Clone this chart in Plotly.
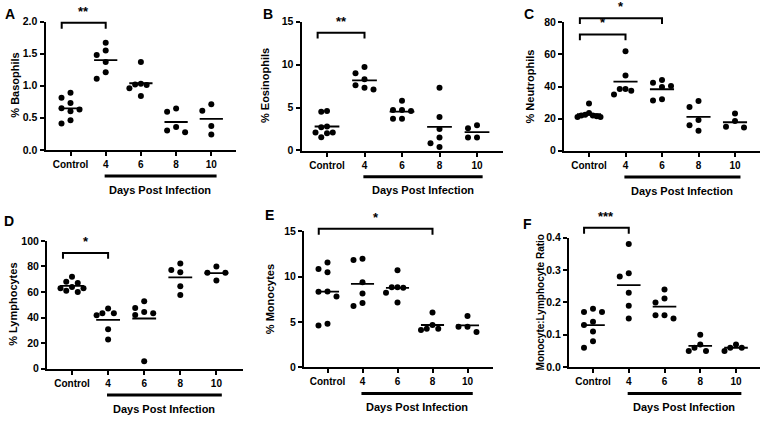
import plotly.graph_objects as go

# ---------------- data ----------------
categories = ["Control", "4", "6", "8", "10"]

basophils = [
    [0.89, 0.81, 0.73, 0.65, 0.63, 0.60, 0.46, 0.41],
    [1.67, 1.55, 1.48, 1.37, 1.21, 1.11],
    [1.37, 1.03, 1.02, 1.01, 0.96, 0.84],
    [0.645, 0.595, 0.355, 0.275, 0.30],
    [0.71, 0.61, 0.37, 0.24],
]
eosinophils = [
    [4.6, 4.5, 2.8, 2.7, 2.1, 2.1, 2.0, 1.55],
    [9.7, 9.0, 8.3, 7.6, 7.3, 7.1],
    [5.8, 4.7, 4.6, 4.7, 3.7, 3.7],
    [7.3, 3.9, 2.5, 1.5, 0.85, 0.4],
    [2.94, 2.6, 1.52, 1.52],
]
neutrophils = [
    [29.5, 23.5, 22.5, 22.0, 22.0, 21.5, 21.0, 21.0],
    [61.9, 46.8, 38.5, 38.5, 37.3, 35.0],
    [44.1, 42.3, 40.3, 39.7, 32.1, 31.3],
    [31.0, 27.2, 19.2, 15.9, 12.5],
    [23.2, 18.5, 14.9, 14.5],
]
lymphocytes = [
    [72, 68, 67, 64, 63, 63, 61, 60],
    [47.1, 43.5, 43.5, 41.8, 30.9, 22.8],
    [52.7, 47.6, 44.3, 43.5, 42.0, 5.8],
    [82.3, 77.2, 75.4, 64.6, 57.7],
    [80, 75, 75, 69],
]
monocytes = [
    [11.54, 10.82, 10.46, 8.36, 8.32, 7.79, 4.79, 4.61],
    [11.96, 11.82, 9.36, 8.14, 7.07, 6.75],
    [10.68, 8.82, 8.82, 8.75, 8.21, 7.14],
    [6.04, 4.64, 4.25, 4.25, 4.10],
    [5.64, 4.46, 4.46, 3.89],
]
mono_lymph_ratio = [
    [0.18, 0.17, 0.17, 0.14, 0.13, 0.11, 0.08, 0.06],
    [0.38, 0.29, 0.28, 0.23, 0.19, 0.15],
    [0.24, 0.212, 0.20, 0.16, 0.16, 0.15],
    [0.10, 0.07, 0.06, 0.05, 0.05],
    [0.07, 0.06, 0.06, 0.05],
]

panel_letters = ["A", "B", "C", "D", "E", "F"]
y_titles = ["% Basophils", "% Eosinophils", "% Neutrophils",
            "% Lymphocytes", "% Monocytes", "Monocyte:Lymphocyte Ratio"]
y_ranges = [(0, 2.0), (0, 15), (0, 80), (0, 100), (0, 15), (0, 0.4)]
y_dticks = [0.5, 5, 20, 20, 5, 0.1]
y_formats = [".1f", "d", "d", "d", "d", ".1f"]
series = [basophils, eosinophils, neutrophils, lymphocytes, monocytes, mono_lymph_ratio]

# significance comparisons per panel: (group a, group b, label, bracket level in data units)
comparisons = [
    [(0, 1, "**", 1.98)],
    [(0, 1, "**", 13.7)],
    [(0, 1, "*", 72.4), (0, 2, "*", 82.5)],
    [(0, 1, "*", 90.6)],
    [(0, 3, "*", 15.26)],
    [(0, 1, "***", 0.43)],
]
xlabel = "Days Post Infection"

# ---------------- layout geometry (pixels) ----------------
W, H = 760, 425
# left edge, right edge, top, bottom, control tick px, category spacing px
boxes = [
    (45.5, 235.5, 16.0, 148.0, 70.5, 35.2),
    (301.5, 502.5, 16.0, 148.7, 327.0, 37.5),
    (564.0, 760.0, 16.7, 149.0, 589.0, 36.5),
    (47.0, 242.5, 241.7, 373.3, 72.0, 36.1),
    (304.0, 492.5, 231.7, 371.7, 327.5, 35.0),
    (569.0, 760.0, 238.3, 371.7, 593.0, 35.75),
]
letter_pos = [(10, 8), (268, 8), (529, 8), (9, 221), (269, 215), (527, 224)]
title_x_px = [15, 265, 530, 13, 270, 540]

FONT = "Arial, Liberation Sans, sans-serif"

fig = go.Figure()
layout_axes = {}
shapes = []
annotations = []


def swarm_offsets(vals, px_per_unit, sp, thresh=7.0, max_step=9.0, half_width=11.5):
    order = sorted(range(len(vals)), key=lambda i: -vals[i])
    placed = []
    slot_of = [0] * len(vals)
    slots = [0, -1, 1, -2, 2, -3, 3, -4, 4]
    for i in order:
        yp = vals[i] * px_per_unit
        for s in slots:
            if all(not (ps == s and abs(py - yp) < thresh) for ps, py in placed):
                placed.append((s, yp))
                slot_of[i] = s
                break
    mx = max(abs(s) for s in slot_of) or 1
    step_px = min(max_step, half_width / mx)
    return [s * step_px / sp for s in slot_of]


for p in range(6):
    left, right, top, bottom, c0, sp = boxes[p]
    xr = ((left - c0) / sp, (right - c0) / sp)
    yr = y_ranges[p]
    dom_x = [left / W, right / W]
    dom_y = [1 - bottom / H, 1 - top / H]
    px_per_unit = (bottom - top) / (yr[1] - yr[0])
    xa = "x" if p == 0 else f"x{p+1}"
    ya = "y" if p == 0 else f"y{p+1}"
    xk = "xaxis" if p == 0 else f"xaxis{p+1}"
    yk = "yaxis" if p == 0 else f"yaxis{p+1}"

    xs, ys, mx, my = [], [], [], []
    for g, vals in enumerate(series[p]):
        offs = swarm_offsets(vals, px_per_unit, sp)
        for v, o in zip(vals, offs):
            xs.append(g + o)
            ys.append(v)
        m = sum(vals) / len(vals)
        mx += [g - 0.33, g + 0.33, None]
        my += [m, m, None]

    fig.add_trace(go.Scatter(x=mx, y=my, mode="lines", xaxis=xa, yaxis=ya,
                             line=dict(color="black", width=1.8), showlegend=False,
                             hoverinfo="skip"))
    fig.add_trace(go.Scatter(x=xs, y=ys, mode="markers", xaxis=xa, yaxis=ya,
                             marker=dict(color="black", size=6), showlegend=False,
                             cliponaxis=False))

    layout_axes[xk] = dict(
        domain=dom_x, range=list(xr), anchor=ya, showgrid=False, zeroline=False,
        showline=True, linecolor="black", linewidth=2,
        tickmode="array", tickvals=list(range(len(categories))), ticktext=categories,
        ticks="outside", ticklen=4, tickwidth=2, tickcolor="black",
        tickfont=dict(family=FONT, size=10, color="black", weight="bold"),
    )
    layout_axes[yk] = dict(
        domain=dom_y, range=list(yr), anchor=xa, showgrid=False, zeroline=False,
        showline=True, linecolor="black", linewidth=2,
        dtick=y_dticks[p], tick0=0, tickformat=y_formats[p],
        ticks="outside", ticklen=4, tickwidth=2, tickcolor="black",
        tickfont=dict(family=FONT, size=10.5, color="black", weight="bold"),
    )

    def to_xd(v):
        return (v - xr[0]) / (xr[1] - xr[0])

    def to_yd(v):
        return (v - yr[0]) / (yr[1] - yr[0])

    # y axis title
    annotations.append(dict(
        text=y_titles[p], xref="paper", yref="paper",
        x=title_x_px[p] / W, y=1 - (top + bottom) / 2 / H,
        textangle=-90, showarrow=False, xanchor="center", yanchor="middle",
        font=dict(family=FONT, size=11 if p < 5 else 10, color="black", weight="bold"),
    ))
    # panel letter
    lx, ly = letter_pos[p]
    annotations.append(dict(
        text=panel_letters[p], xref="paper", yref="paper",
        x=lx / W, y=1 - ly / H, showarrow=False, xanchor="center", yanchor="middle",
        font=dict(family=FONT, size=14, color="black", weight="bold"),
    ))

    # Days post infection bar and label
    xdr, ydr = f"{xa} domain", f"{ya} domain"
    bar_y = -27.0 / (bottom - top)
    shapes.append(dict(type="line", xref=xdr, yref=ydr,
                       x0=to_xd(0.97), x1=to_xd(4.15), y0=bar_y, y1=bar_y,
                       line=dict(color="black", width=3)))
    annotations.append(dict(
        text=xlabel, xref=xdr, yref=ydr, x=to_xd(2.55), y=-41.0 / (bottom - top),
        showarrow=False, xanchor="center", yanchor="middle",
        font=dict(family=FONT, size=11, color="black", weight="bold"),
    ))

    # significance brackets
    leg_px = 6.0
    for (ga, gb, lab, lvl) in comparisons[p]:
        x0 = to_xd(ga - 0.25)
        x1 = to_xd(gb)
        yb = to_yd(lvl)
        yl = yb - leg_px / (bottom - top)
        path = f"M {x0},{yl} L {x0},{yb} L {x1},{yb} L {x1},{yl}"
        shapes.append(dict(type="path", xref=xdr, yref=ydr, path=path,
                           line=dict(color="black", width=2)))
        annotations.append(dict(
            text=lab, xref=xdr, yref=ydr, x=(x0 + x1) / 2,
            y=yb + 2.0 / (bottom - top), showarrow=False,
            xanchor="center", yanchor="bottom",
            font=dict(family=FONT, size=13, color="black", weight="bold"),
        ))

fig.update_layout(
    width=W, height=H, margin=dict(l=0, r=0, t=0, b=0),
    paper_bgcolor="white", plot_bgcolor="white",
    shapes=shapes, annotations=annotations, **layout_axes,
)
fig.write_html("out.html", config={"displayModeBar": False},
               post_script="document.body.style.margin='0';")
